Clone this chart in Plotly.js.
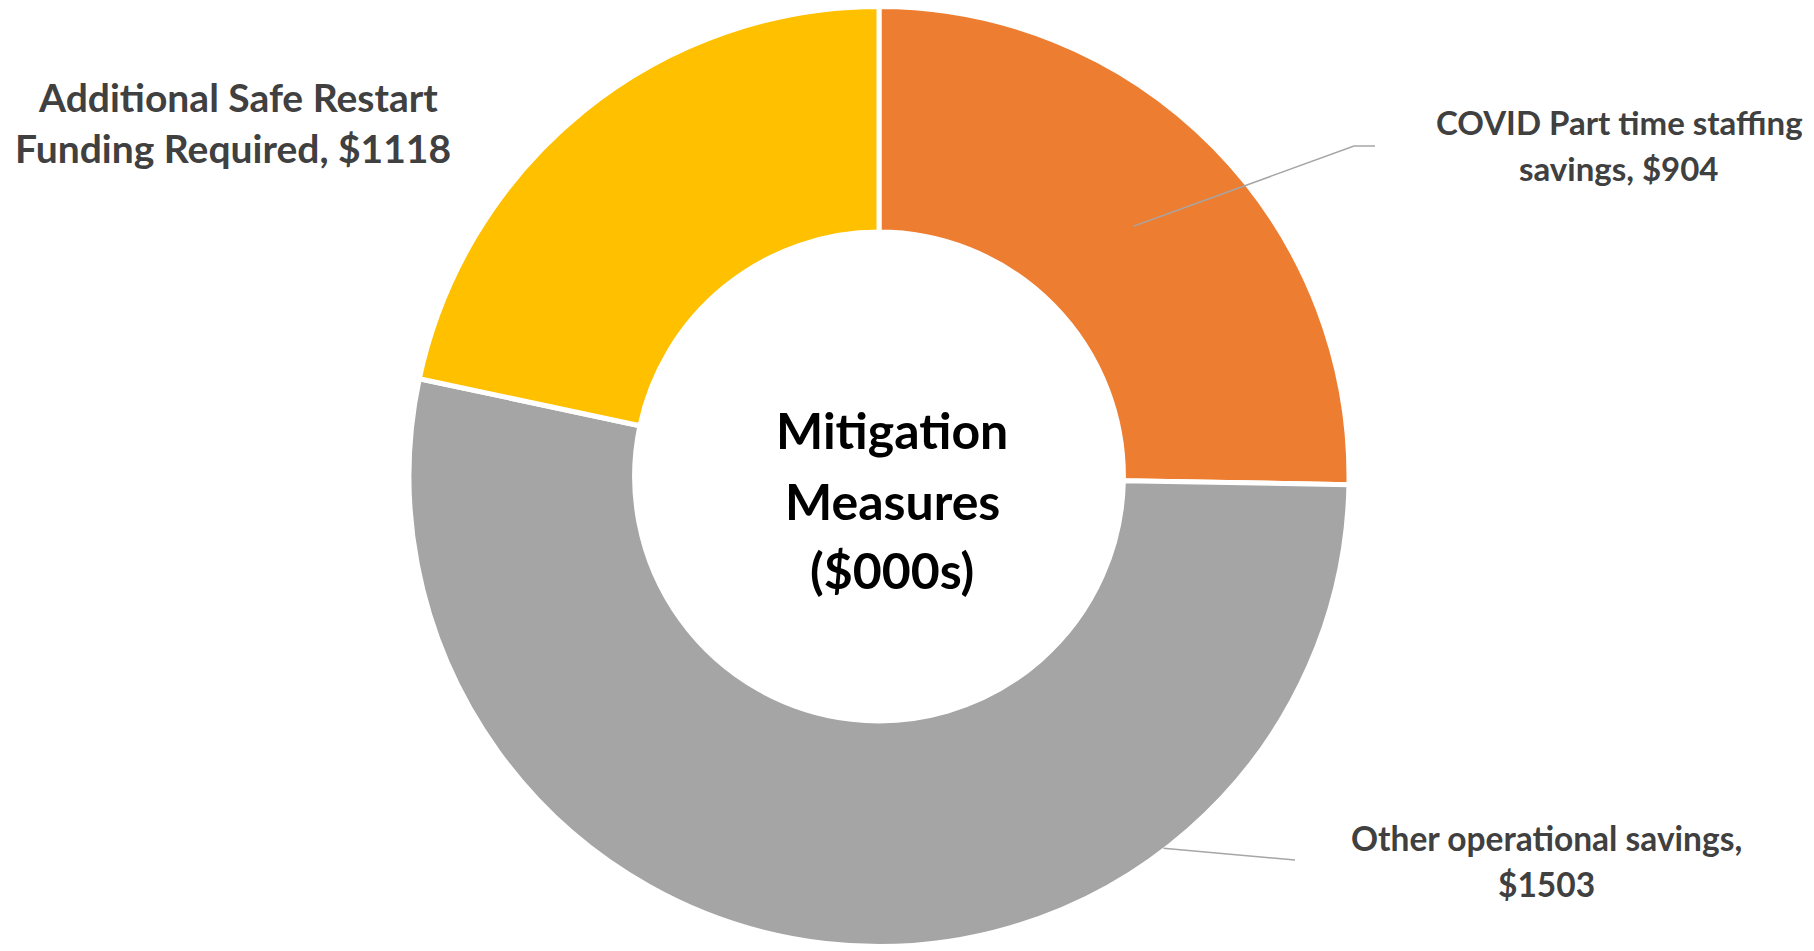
<!DOCTYPE html>
<html>
<head>
<meta charset="utf-8">
<script src="https://cdn.plot.ly/plotly-3.0.1.min.js"></script>
<style>html,body{margin:0;padding:0;background:#fff;}#chart{width:1814px;height:951px;}</style>
</head>
<body>
<div id="chart"></div>
<script>
// Data
const categories = ["COVID Part time staffing savings", "Other operational savings", "Additional Safe Restart Funding Required"];
// values printed in the data labels ($000s)
const labelValues = [904, 1503, 1118];
// slice sizes as drawn in the picture (angle of each slice, degrees)
const sliceDegrees = [91, 191, 78];
const colors = ["#ED7D31", "#A5A5A5", "#FFC000"];
const labelLines = [
  ["COVID Part time staffing", "savings, $" + labelValues[0]],
  ["Other operational savings,", "$" + labelValues[1]],
  ["Additional Safe Restart", "Funding Required, $" + labelValues[2]]
];
const centerLines = ["Mitigation", "Measures", "($000s)"];

const W = 1814, H = 951;
const cx = 879, cy = 476.5, R = 470, hole = 0.52;
const px = x => x / W, py = y => 1 - y / H;

const total = sliceDegrees.reduce((a, b) => a + b, 0);
function sliceAngle(i, frac) {
  let start = 0;
  for (let k = 0; k < i; k++) start += sliceDegrees[k] / total * 360;
  return start + frac * sliceDegrees[i] / total * 360;
}
function polar(angDeg, r) {
  const a = angDeg * Math.PI / 180;
  return [cx + r * Math.sin(a), cy - r * Math.cos(a)];
}

const trace = {
  type: "pie",
  labels: categories,
  values: sliceDegrees,
  customdata: labelValues,
  hole: hole,
  sort: false,
  direction: "clockwise",
  rotation: 0,
  textinfo: "none",
  hovertemplate: "%{label}: $%{customdata}<extra></extra>",
  marker: { colors: colors, line: { color: "#ffffff", width: 5 } },
  domain: { x: [px(cx - 530), px(cx + 530)], y: [py(cy + R), py(cy - R)] },
  showlegend: false
};

const labelFont = size => ({ family: "Lato, 'Open Sans', sans-serif", size: size, color: "#404040", weight: "bold" });
const ann = [];
function addLine(text, x, y, font) {
  ann.push({ xref: "paper", yref: "paper", x: px(x), y: py(y), text: "<b>" + text + "</b>",
    showarrow: false, xanchor: "center", yanchor: "middle", font: font });
}
// COVID label
addLine(labelLines[0][0], 1619, 122, labelFont(33));
addLine(labelLines[0][1], 1619, 168, labelFont(33));
// Other label
addLine(labelLines[1][0], 1546, 838, labelFont(33.5));
addLine(labelLines[1][1], 1546, 884, labelFont(33.5));
// Additional label
addLine(labelLines[2][0], 238, 97, labelFont(39));
addLine(labelLines[2][1], 233, 148, labelFont(39));
// Center text
const cFont = { family: "Lato, 'Open Sans', sans-serif", size: 50, color: "#000000", weight: "bold" };
addLine(centerLines[0], 892, 430, cFont);
addLine(centerLines[1], 892, 501, cFont);
addLine(centerLines[2], 892, 570, cFont);

// Leader lines
const tip0 = polar(sliceAngle(0, 0.5), R * (1 + hole) / 2);
const tip1 = polar(sliceAngle(1, 0.27), R - 2);
const shapes = [
  { type: "path", xref: "paper", yref: "paper",
    path: `M ${px(tip0[0])} ${py(tip0[1])} L ${px(1354)} ${py(146)} L ${px(1375)} ${py(146)}`,
    line: { color: "#A6A6A6", width: 1.5 } },
  { type: "path", xref: "paper", yref: "paper",
    path: `M ${px(tip1[0])} ${py(tip1[1])} L ${px(1295)} ${py(860)}`,
    line: { color: "#A6A6A6", width: 1.5 } }
];

const layout = {
  width: W, height: H,
  margin: { l: 0, r: 0, t: 0, b: 0, pad: 0 },
  paper_bgcolor: "#ffffff",
  plot_bgcolor: "#ffffff",
  annotations: ann,
  shapes: shapes,
  showlegend: false
};
Plotly.newPlot("chart", [trace], layout, { displayModeBar: false, staticPlot: true });
</script>
</body>
</html>
